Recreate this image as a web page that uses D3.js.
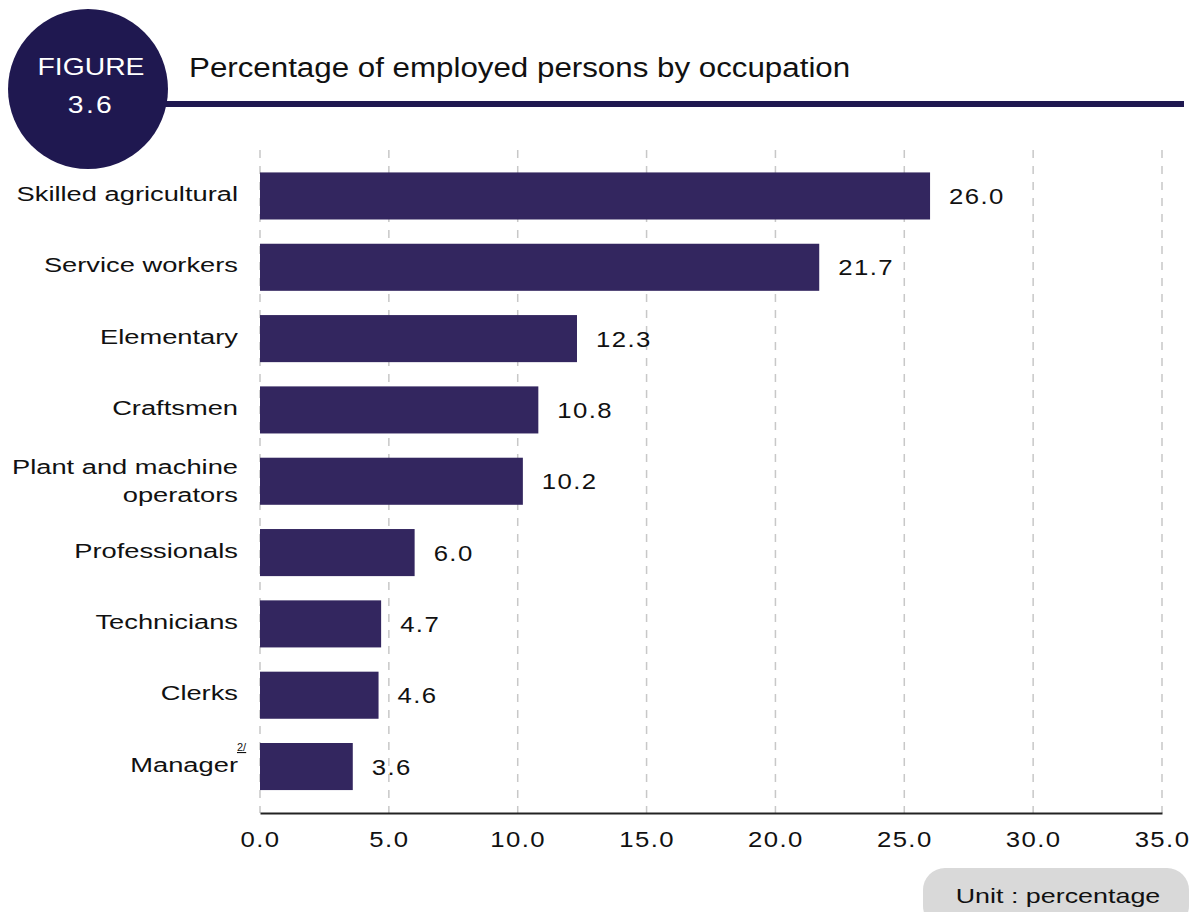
<!DOCTYPE html>
<html><head><meta charset="utf-8">
<script src="https://cdn.jsdelivr.net/npm/d3@7"></script>
<style>body{margin:0;background:#fff}svg{display:block}text{font-family:"Liberation Sans",Arial,sans-serif}</style>
</head><body>
<svg id="c" width="1192" height="912"></svg>
<script>
const categories = ["Skilled agricultural","Service workers","Elementary","Craftsmen","Plant and machine operators","Professionals","Technicians","Clerks","Manager"];
const values = [26.0,21.7,12.3,10.8,10.2,6.0,4.7,4.6,3.6];
const tickValues = [0,5,10,15,20,25,30,35];
const titleText = "Percentage of employed persons by occupation";

const svg = d3.select("#c");
const dark = "#1f1850", barCol = "#33265f";

// text with horizontal stretch (the reference font is wide)
function stext(sel, x, y, str, o) {
  const t = sel.append("text")
    .attr("transform", `translate(${x},${y}) scale(${o.sx||1},1)`)
    .attr("text-anchor", o.anchor || "start")
    .attr("font-size", o.size).attr("fill", o.fill || "#111")
    .attr("letter-spacing", o.ls || 0);
  if (str !== null) t.text(str);
  return t;
}

// header
svg.append("rect").attr("x",160).attr("y",101).attr("width",1024).attr("height",6).attr("fill",dark);
svg.append("circle").attr("cx",88).attr("cy",89).attr("r",80).attr("fill",dark);
stext(svg, 91, 75, "FIGURE", {size:24, sx:1.18, anchor:"middle", fill:"#fff"});
stext(svg, 91, 113, "3.6", {size:24, sx:1.18, anchor:"middle", fill:"#fff", ls:2});
stext(svg, 189, 77, titleText, {size:27, sx:1.16, fill:"#111"});

const x = d3.scaleLinear().domain([0,35]).range([260,1162]);
const y = d3.scaleBand().domain(categories).range([160.3,802.2]).paddingInner(0.34).paddingOuter(0.17);

// grid
svg.append("g").selectAll("line").data(tickValues).join("line")
  .attr("x1",d=>x(d)).attr("x2",d=>x(d)).attr("y1",150).attr("y2",813)
  .attr("stroke","#c8c8c8").attr("stroke-width",1.5).attr("stroke-dasharray","8,8");

// bars
svg.append("g").selectAll("rect").data(values).join("rect")
  .attr("x",x(0)).attr("y",(d,i)=>y(categories[i]))
  .attr("width",d=>x(d)-x(0)).attr("height",y.bandwidth()).attr("fill",barCol);

// value labels
const vg = svg.append("g");
values.forEach((d,i)=>{
  stext(vg, x(d)+19, y(categories[i])+y.bandwidth()/2+8, d.toFixed(1), {size:22, sx:1.17, ls:1.2});
});

// axis
const ax = svg.append("g").attr("transform","translate(0,813)")
  .call(d3.axisBottom(x).tickValues(tickValues).tickSize(0).tickPadding(18).tickFormat(d3.format(".1f")));
ax.select(".domain").attr("stroke","#222").attr("stroke-width",2);
ax.selectAll("text").attr("font-size",22).attr("letter-spacing",1.2).attr("fill","#111")
  .attr("transform","scale(1.17,1)")
  .attr("font-family","'Liberation Sans',Arial,sans-serif");

// category labels
const lg = svg.append("g");
categories.forEach(d=>{
  const cy = y(d)+y.bandwidth()/2;
  if (d==="Plant and machine operators"){
    const t = stext(lg, 238, cy+7, null, {size:21, sx:1.3, anchor:"end"});
    t.append("tspan").attr("x",0).attr("dy",-14).text("Plant and machine");
    t.append("tspan").attr("x",0).attr("dy",28).text("operators");
  } else {
    stext(lg, 238, cy+5, d, {size:21, sx:1.3, anchor:"end"});
  }
});
svg.append("text").attr("x",237).attr("y",751).attr("font-size",11).attr("fill","#111").attr("text-decoration","underline").text("2/");

// unit box
svg.append("rect").attr("x",923).attr("y",868).attr("width",266).attr("height",60).attr("rx",22).attr("fill","#d9d9d9");
stext(svg, 1058, 903, "Unit : percentage", {size:21, sx:1.28, anchor:"middle"});
</script>
</body></html>
